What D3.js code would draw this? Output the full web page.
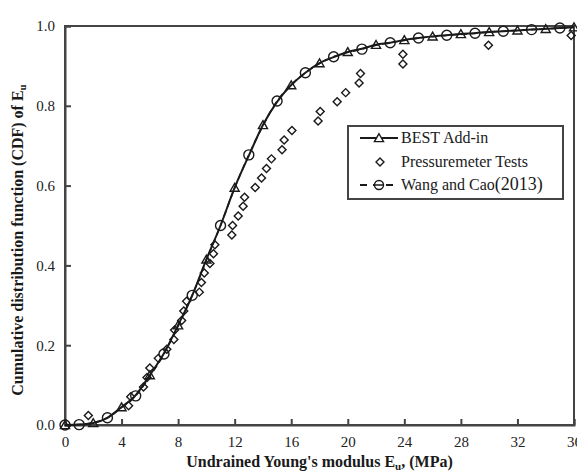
<!DOCTYPE html>
<html>
<head>
  <script src="https://d3js.org/d3.v7.min.js"></script>
  <style>
    body { margin: 0; background: #fff; }
    svg { font-family: "Liberation Serif", "Times New Roman", serif; }
    .axis text { fill: #222; }
    .axis path, .axis line { stroke: #444; }
    .title { font-size: 16px; font-weight: bold; fill: #1a1a1a; }
    .legend text { font-size: 16px; fill: #1a1a1a; }
  </style>
</head>
<body>
<div id="chart"></div>
<script>
// BEST Add-in CDF curve (read at each MPa)
var bestX = [0,1,2,3,4,5,6,7,8,9,10,11,12,13,14,15,16,17,18,19,20,21,22,23,24,25,26,27,28,29,30,31,32,33,34,35,36];
var bestY = [0,0.001,0.005,0.018,0.045,0.075,0.125,0.18,0.25,0.325,0.415,0.5,0.595,0.675,0.752,0.81,0.852,0.883,0.907,0.922,0.935,0.943,0.953,0.958,0.965,0.97,0.974,0.977,0.98,0.982,0.985,0.987,0.989,0.991,0.993,0.995,0.997];

// Wang and Cao (2013) curve
var wangX = [0,1,2,3,4,5,6,7,8,9,10,11,12,13,14,15,16,17,18,19,20,21,22,23,24,25,26,27,28,29,30,31,32,33,34,35,36];
var wangY = [0,0.001,0.006,0.018,0.044,0.073,0.122,0.178,0.248,0.325,0.413,0.5,0.594,0.677,0.75,0.812,0.853,0.883,0.906,0.923,0.934,0.942,0.952,0.958,0.964,0.97,0.973,0.977,0.979,0.982,0.985,0.987,0.989,0.991,0.993,0.995,0.997];

// Pressuremeter tests (empirical CDF)
var testX = [1.65,4.5,4.65,5.55,5.8,6.0,6.6,7.2,7.7,7.75,8.25,8.4,8.6,9.5,9.65,9.85,10.25,10.5,10.6,11.8,11.85,12.25,12.6,12.7,13.45,13.9,14.25,14.6,15.35,15.5,16.05,17.9,18.05,19.25,19.85,20.8,20.9,23.9,23.9,29.95,35.8];
var testY = [0.024,0.048,0.071,0.095,0.119,0.143,0.167,0.19,0.214,0.238,0.262,0.286,0.31,0.333,0.357,0.381,0.405,0.429,0.452,0.476,0.5,0.524,0.548,0.571,0.595,0.619,0.643,0.667,0.69,0.714,0.738,0.762,0.786,0.81,0.833,0.857,0.881,0.905,0.929,0.952,0.976];

var xTicks = [0,4,8,12,16,20,24,28,32,36];
var yTicks = [0,0.2,0.4,0.6,0.8,1.0];

var width = 577, height = 474;
var pLeft = 65, pRight = 574, pTop = 26, pBottom = 425;

var svg = d3.select("#chart").append("svg")
  .attr("width", width)
  .attr("height", height);

var x = d3.scaleLinear().domain([0, 36]).range([pLeft, pRight]);
var y = d3.scaleLinear().domain([0, 1]).range([pBottom, pTop]);

/* frame */
svg.append("rect")
  .attr("x", pLeft).attr("y", pTop)
  .attr("width", pRight - pLeft).attr("height", pBottom - pTop)
  .attr("fill", "none").attr("stroke", "#444").attr("stroke-width", 2);

/* axes */
svg.append("g")
  .attr("class", "axis")
  .attr("transform", `translate(0, ${pBottom})`)
  .call(d3.axisBottom(x).tickValues(xTicks).tickSize(-6).tickPadding(11).tickFormat(d3.format("d")))
  .call(g => g.selectAll("path, line").attr("stroke-width", 2));

svg.append("g")
  .attr("class", "axis")
  .attr("transform", `translate(${pLeft}, 0)`)
  .call(d3.axisLeft(y).tickValues(yTicks).tickSize(-6).tickPadding(10).tickFormat(d3.format(".1f")))
  .call(g => g.selectAll("path, line").attr("stroke-width", 2));

svg.selectAll(".axis text").attr("font-family", "'Liberation Serif', serif").attr("font-size", 15);

/* lines */
var best = bestX.map((d, i) => ({x: d, y: bestY[i]}));
var wang = wangX.map((d, i) => ({x: d, y: wangY[i]}));
var tests = testX.map((d, i) => ({x: d, y: testY[i]}));

var line = d3.line()
  .x(d => x(d.x))
  .y(d => y(d.y))
  .curve(d3.curveMonotoneX);

svg.append("path")
  .attr("d", line(best))
  .attr("fill", "none")
  .attr("stroke", "#1a1a1a")
  .attr("stroke-width", 2);

svg.append("path")
  .attr("d", line(wang))
  .attr("fill", "none")
  .attr("stroke", "#1a1a1a")
  .attr("stroke-width", 1.6)
  .attr("stroke-dasharray", "6,4");

var tri = d3.symbol().type(d3.symbolTriangle).size(36);
var dia = d3.symbol().type(d3.symbolSquare).size(32);

/* markers: triangles on even MPa, circles on odd MPa (and origin) */
svg.append("g").selectAll("path")
  .data(best.filter(d => d.x % 2 === 0))
  .enter().append("path")
  .attr("d", tri)
  .attr("transform", d => `translate(${x(d.x)}, ${y(d.y) + 1})`)
  .attr("fill", "none").attr("stroke", "#1a1a1a").attr("stroke-width", 1.4);

svg.append("g").selectAll("circle")
  .data(wang.filter(d => d.x % 2 === 1 || d.x === 0))
  .enter().append("circle")
  .attr("cx", d => x(d.x)).attr("cy", d => y(d.y))
  .attr("r", 5)
  .attr("fill", "none").attr("stroke", "#1a1a1a").attr("stroke-width", 1.4);

svg.append("g").selectAll("path")
  .data(tests)
  .enter().append("path")
  .attr("d", dia)
  .attr("transform", d => `translate(${x(d.x)}, ${y(d.y)}) rotate(45)`)
  .attr("fill", "none").attr("stroke", "#1a1a1a").attr("stroke-width", 1.4);

/* legend */
var lg = svg.append("g").attr("class", "legend");
lg.append("rect")
  .attr("x", 348).attr("y", 126).attr("width", 215).attr("height", 73)
  .attr("fill", "#fff").attr("stroke", "#444").attr("stroke-width", 2);

lg.append("line").attr("x1", 360).attr("x2", 398).attr("y1", 138).attr("y2", 138)
  .attr("stroke", "#1a1a1a").attr("stroke-width", 2);
lg.append("path").attr("d", tri).attr("transform", "translate(379, 139)")
  .attr("fill", "#fff").attr("stroke", "#1a1a1a").attr("stroke-width", 1.4);
lg.append("text").attr("x", 401).attr("y", 143).text("BEST Add-in");

lg.append("path").attr("d", dia).attr("transform", "translate(380, 162) rotate(45)")
  .attr("fill", "none").attr("stroke", "#1a1a1a").attr("stroke-width", 1.4);
lg.append("text").attr("x", 401).attr("y", 167).text("Pressuremeter Tests");

lg.append("line").attr("x1", 360).attr("x2", 399).attr("y1", 185).attr("y2", 185)
  .attr("stroke", "#1a1a1a").attr("stroke-width", 1.8).attr("stroke-dasharray", "7,6");
lg.append("circle").attr("cx", 379).attr("cy", 185).attr("r", 4.5)
  .attr("fill", "#fff").attr("stroke", "#1a1a1a").attr("stroke-width", 1.4);
lg.append("line").attr("x1", 374).attr("x2", 384).attr("y1", 185).attr("y2", 185)
  .attr("stroke", "#1a1a1a").attr("stroke-width", 1.5);
var wt = lg.append("text").attr("x", 401).attr("y", 190);
wt.append("tspan").text("Wang and Cao");
wt.append("tspan").attr("font-size", 18).text("(2013)");

/* axis titles */
var xt = svg.append("text").attr("class", "title")
  .attr("x", (pLeft + pRight) / 2).attr("y", 467)
  .attr("text-anchor", "middle");
xt.append("tspan").text("Undrained Young's modulus E");
xt.append("tspan").attr("font-size", 11).attr("dy", 2.5).text("u");
xt.append("tspan").attr("dy", -2.5).text(", (MPa)");

var yt = svg.append("text").attr("class", "title")
  .attr("transform", "translate(23, 240) rotate(-90)")
  .attr("text-anchor", "middle");
yt.append("tspan").text("Cumulative distribution function (CDF) of E");
yt.append("tspan").attr("font-size", 11).attr("dy", 2.5).text("u");
</script>
</body>
</html>
